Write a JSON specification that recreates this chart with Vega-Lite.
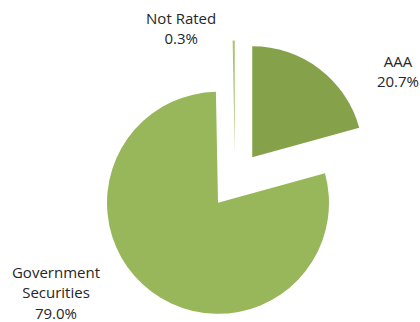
{
  "$schema": "https://vega.github.io/schema/vega-lite/v6.json",
  "width": 370,
  "height": 284,
  "autosize": "none",
  "padding": {"left": 50, "top": 38, "right": 0, "bottom": 0},
  "background": "white",
  "config": {"view": {"stroke": null}, "text": {"font": "Open Sans", "fontSize": 15, "color": "#262626"}},
  "data": {"values": [
    {"rating": "AAA", "pct": 20.7, "label": "AAA\n20.7%"},
    {"rating": "Government Securities", "pct": 79.0, "label": "Government\nSecurities\n79.0%"},
    {"rating": "Not Rated", "pct": 0.3, "label": "Not Rated\n0.3%"}
  ]},
  "transform": [
    {"stack": "pct", "groupby": [], "sort": [{"field": "rating", "order": "ascending"}], "as": ["start", "end"]}
  ],
  "encoding": {
    "theta": {"field": "start", "type": "quantitative", "scale": {"domain": [0, 100]}},
    "theta2": {"field": "end"}
  },
  "layer": [
    {"transform": [{"filter": "datum.rating === 'AAA'"}],
     "mark": {"type": "arc", "radius": 111, "xOffset": 17.25, "yOffset": -22.7, "color": "#85A24B"}},
    {"transform": [{"filter": "datum.rating === 'Government Securities'"}],
     "mark": {"type": "arc", "radius": 111, "xOffset": -17.0, "yOffset": 22.85, "color": "#98B75A"}},
    {"transform": [{"filter": "datum.rating === 'Not Rated'"}],
     "mark": {"type": "arc", "radius": 111, "xOffset": -0.27, "yOffset": -28.5, "color": "#A9C46E"}},
    {"transform": [{"filter": "datum.rating === 'AAA'"}],
     "mark": {"type": "text", "radius": 201.2, "thetaOffset": 0.944, "align": "center", "baseline": "middle", "lineBreak": "\n", "lineHeight": 20},
     "encoding": {"text": {"field": "label"}}},
    {"transform": [{"filter": "datum.rating === 'Government Securities'"}],
     "mark": {"type": "text", "radius": 201.7, "thetaOffset": 2.933, "align": "center", "baseline": "middle", "lineBreak": "\n", "lineHeight": 20.5},
     "encoding": {"text": {"field": "label"}}},
    {"transform": [{"filter": "datum.rating === 'Not Rated'"}],
     "mark": {"type": "text", "radius": 169.8, "thetaOffset": -0.304, "align": "center", "baseline": "middle", "lineBreak": "\n", "lineHeight": 20},
     "encoding": {"text": {"field": "label"}}}
  ]
}
